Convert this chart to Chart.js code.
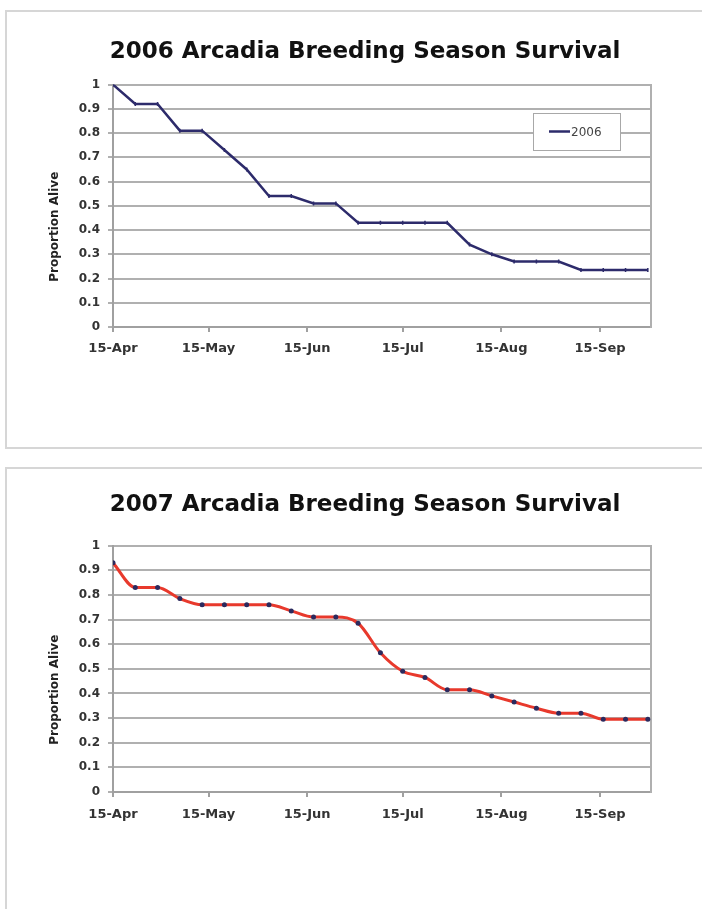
<!DOCTYPE html>
<html>
<head>
<meta charset="utf-8">
<script src="https://cdn.jsdelivr.net/npm/chart.js@4.4.1/dist/chart.umd.min.js"></script>
<style>
  html, body { margin: 0; padding: 0; background: #fff; width: 702px; height: 909px; overflow: hidden; }
  .panel { position: absolute; left: 5px; width: 720px; border: 2px solid #d6d6d6; box-sizing: border-box; }
  #p1 { top: 10px; height: 439px; }
  #p2 { top: 467px; height: 480px; }
  canvas { position: absolute; left: 0; }
  #c1 { top: 0; }
  #c2 { top: 460px; }
</style>
</head>
<body>
<div class="panel" id="p1"></div>
<div class="panel" id="p2"></div>
<canvas id="c1" width="702" height="460"></canvas>
<canvas id="c2" width="702" height="449"></canvas>
<script>
// ---- data ----
// days after 15-Apr, one check per week
const sampleDays = [0, 7, 14, 21, 28, 35, 42, 49, 56, 63, 70, 77, 84, 91, 98, 105, 112, 119, 126, 133, 140, 147, 154, 161, 168];
const tickDays = [0, 30, 61, 91, 122, 153];
const tickLabels = ["15-Apr", "15-May", "15-Jun", "15-Jul", "15-Aug", "15-Sep"];

const survival2006 = [1.00, 0.92, 0.92, 0.81, 0.81, 0.73, 0.65, 0.54, 0.54, 0.51, 0.51, 0.43, 0.43,
                      0.43, 0.43, 0.43, 0.34, 0.30, 0.27, 0.27, 0.27, 0.235, 0.235, 0.235, 0.235];
const survival2007 = [0.93, 0.83, 0.83, 0.785, 0.76, 0.76, 0.76, 0.76, 0.735, 0.71, 0.71, 0.685, 0.565,
                      0.49, 0.465, 0.415, 0.415, 0.39, 0.365, 0.34, 0.32, 0.32, 0.295, 0.295, 0.295];

const FONT = "'DejaVu Sans', sans-serif";
const GRID = "#b0b0b0";
const AXIS = "#a0a0a0";
const PAD_LEFT = 79;   // keeps the chart title centred where Excel put it

function toPoints(vals) {
  return sampleDays.map((d, i) => ({ x: d, y: vals[i] }));
}

// legend box drawn inside the plot, like the Excel one
const legendBox = {
  id: "legendBox",
  afterDatasetsDraw(chart, args, opts) {
    if (!opts.show) return;
    const { ctx, chartArea } = chart;
    const ds = chart.data.datasets[0];
    const w = 87, h = 37;
    const x = Math.round(chartArea.right - 31 - w);
    const y = Math.round(chartArea.top + 28);
    ctx.save();
    ctx.fillStyle = "#fff";
    ctx.fillRect(x, y, w, h);
    ctx.strokeStyle = "#a8a8a8";
    ctx.lineWidth = 1;
    ctx.strokeRect(x + 0.5, y + 0.5, w, h);
    ctx.strokeStyle = ds.borderColor;
    ctx.lineWidth = 2.5;
    ctx.beginPath();
    ctx.moveTo(x + 16, y + h / 2);
    ctx.lineTo(x + 37, y + h / 2);
    ctx.stroke();
    ctx.fillStyle = "#444";
    ctx.font = "12px " + FONT;
    ctx.textBaseline = "middle";
    ctx.fillText(ds.label, x + 38, y + h / 2 + 1);
    ctx.restore();
  }
};

function makeChart(id, cfg) {
  return new Chart(document.getElementById(id), {
    type: "line",
    data: {
      datasets: [{
        label: cfg.label,
        data: toPoints(cfg.values),
        borderColor: cfg.lineColor,
        borderWidth: cfg.lineWidth,
        pointStyle: cfg.pointStyle,
        pointRotation: cfg.pointRotation || 0,
        pointRadius: cfg.pointRadius,
        pointBackgroundColor: cfg.pointColor,
        pointBorderColor: cfg.pointColor,
        pointBorderWidth: cfg.pointBorderWidth,
        cubicInterpolationMode: cfg.smooth ? "monotone" : "default",
        tension: 0,
        fill: false
      }]
    },
    options: {
      responsive: false,
      animation: false,
      layout: { padding: { left: PAD_LEFT, right: 51, top: 0, bottom: cfg.padBottom } },
      plugins: {
        legend: { display: false },
        tooltip: { enabled: false },
        title: {
          display: true,
          text: cfg.title,
          color: "#111",
          font: { family: FONT, size: 23, weight: "bold" },
          padding: { top: cfg.titleTop, bottom: cfg.titleBottom }
        },
        legendBox: { show: cfg.showLegend }
      },
      scales: {
        x: {
          type: "linear",
          min: 0,
          max: 169,
          afterBuildTicks: (s) => { s.ticks = tickDays.map(v => ({ value: v })); },
          afterFit: (s) => { s.height = 50; },
          ticks: {
            autoSkip: false,
            maxRotation: 0,
            padding: cfg.xPad,
            color: "#333",
            font: { family: FONT, size: 13, weight: "bold" },
            callback: (v) => tickLabels[tickDays.indexOf(v)]
          },
          grid: { drawOnChartArea: false, drawTicks: true, tickLength: 5, color: AXIS, lineWidth: 2 },
          border: { display: true, color: AXIS, width: 2 }
        },
        y: {
          min: 0,
          max: 1,
          afterFit: (s) => { s.width = 113 - PAD_LEFT; },
          ticks: {
            stepSize: 0.1,
            padding: 8,
            color: "#333",
            font: { family: FONT, size: 12, weight: "bold" },
            callback: (v) => String(+v.toFixed(1))
          },
          grid: { color: GRID, lineWidth: 2, tickLength: 5 },
          border: { display: true, color: AXIS, width: 2 },
          title: {
            display: true,
            text: "Proportion Alive          ",
            color: "#222",
            font: { family: FONT, size: 12, weight: "bold" },
            padding: { top: 55 - PAD_LEFT - 7, bottom: 0 }
          }
        },
        yr: {
          position: "right",
          min: 0,
          max: 1,
          afterFit: (s) => { s.width = 0; },
          ticks: { display: false },
          grid: { drawOnChartArea: false, drawTicks: false },
          border: { display: true, color: GRID, width: 2 }
        }
      }
    },
    plugins: [legendBox]
  });
}

makeChart("c1", {
  title: "2006 Arcadia Breeding Season Survival",
  label: "2006",
  values: survival2006,
  lineColor: "#2d2b6b",
  lineWidth: 2.5,
  pointStyle: "line",
  pointRotation: 90,
  pointRadius: 2,
  pointColor: "#2d2b6b",
  pointBorderWidth: 1.5,
  smooth: false,
  titleTop: 38,
  titleBottom: 19,
  padBottom: 83,
  xPad: 9,
  showLegend: true
});

makeChart("c2", {
  title: "2007 Arcadia Breeding Season Survival",
  label: "2007",
  values: survival2007,
  lineColor: "#e8392c",
  lineWidth: 3,
  pointStyle: "circle",
  pointRadius: 2.5,
  pointColor: "#2b2a5e",
  pointBorderWidth: 0,
  smooth: true,
  titleTop: 31,
  titleBottom: 27,
  padBottom: 67,
  xPad: 10,
  showLegend: false
});
</script>
</body>
</html>
